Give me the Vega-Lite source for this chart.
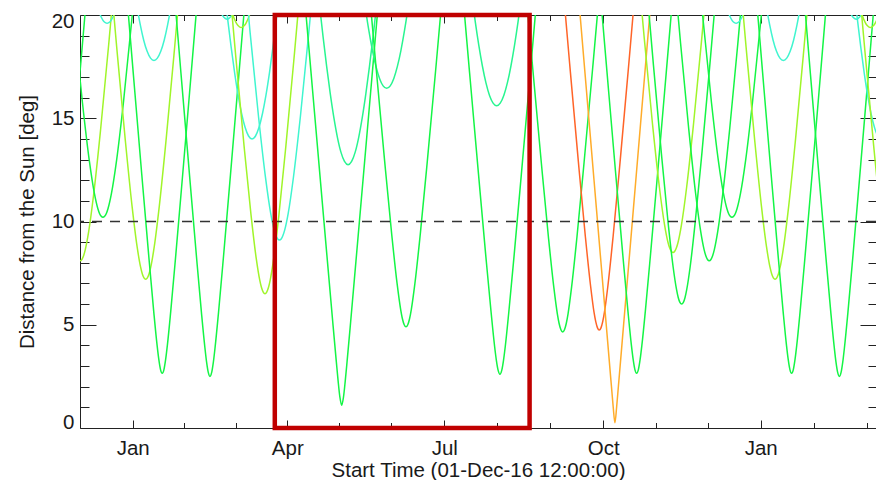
{
"$schema": "https://vega.github.io/schema/vega-lite/v6.json",
"width": 796, "height": 413,
"autosize": {"type": "none"},
"padding": {"left": 80, "top": 15, "right": 0, "bottom": 52},
"background": "white",
"config": {
 "view": {"stroke": "#222", "strokeWidth": 1},
 "font": "Liberation Sans",
 "axis": {"grid": false, "domain": false, "labelFont": "Liberation Sans", "titleFont": "Liberation Sans", "labelFontSize": 20.5, "titleFontSize": 20.5, "labelColor": "#1a1a1a", "titleColor": "#1a1a1a", "titleFontWeight": "normal", "tickColor": "#222", "tickWidth": 1, "labelOverlap": false, "labelFlush": false}
},
"layer": [
{
 "data": {"values": [
{"s":"L2","c":"g","t":-23.92,"v":10},{"s":"L2","c":"g","t":-20.95,"v":7.81},{"s":"L2","c":"g","t":-16,"v":6},{"s":"L2","c":"g","t":-11.05,"v":7.81},{"s":"L2","c":"g","t":-8.08,"v":10},{"s":"L2","c":"g","t":-4.12,"v":13.42},{"s":"L2","c":"g","t":0.83,"v":18.03},{"s":"L2","c":"g","t":7.76,"v":24.74},
{"s":"L1","c":"yg","t":-23.66,"v":25.33},{"s":"L1","c":"yg","t":-16.73,"v":18.83},{"s":"L1","c":"yg","t":-11.78,"v":14.48},{"s":"L1","c":"yg","t":-7.82,"v":11.38},{"s":"L1","c":"yg","t":-4.85,"v":9.52},{"s":"L1","c":"yg","t":-2.87,"v":8.64},{"s":"L1","c":"yg","t":-1.88,"v":8.34},{"s":"L1","c":"yg","t":-0.89,"v":8.16},{"s":"L1","c":"yg","t":0.1,"v":8.1},{"s":"L1","c":"yg","t":1.09,"v":8.16},{"s":"L1","c":"yg","t":2.08,"v":8.34},{"s":"L1","c":"yg","t":3.07,"v":8.64},{"s":"L1","c":"yg","t":5.05,"v":9.52},{"s":"L1","c":"yg","t":8.02,"v":11.38},{"s":"L1","c":"yg","t":11.98,"v":14.48},{"s":"L1","c":"yg","t":16.93,"v":18.83},{"s":"L1","c":"yg","t":23.86,"v":25.33},
{"s":"d1","c":"g","t":-10.46,"v":26.08},{"s":"d1","c":"g","t":-3.53,"v":19.83},{"s":"d1","c":"g","t":1.42,"v":15.75},{"s":"d1","c":"g","t":5.38,"v":12.96},{"s":"d1","c":"g","t":8.35,"v":11.36},{"s":"d1","c":"g","t":10.33,"v":10.63},{"s":"d1","c":"g","t":11.32,"v":10.39},{"s":"d1","c":"g","t":12.31,"v":10.25},{"s":"d1","c":"g","t":13.3,"v":10.2},{"s":"d1","c":"g","t":14.29,"v":10.25},{"s":"d1","c":"g","t":15.28,"v":10.39},{"s":"d1","c":"g","t":16.27,"v":10.63},{"s":"d1","c":"g","t":18.25,"v":11.36},{"s":"d1","c":"g","t":21.22,"v":12.96},{"s":"d1","c":"g","t":25.18,"v":15.75},{"s":"d1","c":"g","t":30.13,"v":19.83},{"s":"d1","c":"g","t":37.06,"v":26.08},
{"s":"d6","c":"cy","t":7.78,"v":21.17},{"s":"d6","c":"cy","t":10.75,"v":20.23},{"s":"d6","c":"cy","t":12.73,"v":19.83},{"s":"d6","c":"cy","t":13.72,"v":19.7},{"s":"d6","c":"cy","t":14.71,"v":19.63},{"s":"d6","c":"cy","t":15.7,"v":19.6},{"s":"d6","c":"cy","t":16.69,"v":19.63},{"s":"d6","c":"cy","t":17.68,"v":19.7},{"s":"d6","c":"cy","t":18.67,"v":19.83},{"s":"d6","c":"cy","t":20.65,"v":20.23},{"s":"d6","c":"cy","t":23.62,"v":21.17},
{"s":"d2","c":"yg","t":14.34,"v":25.06},{"s":"d2","c":"yg","t":21.27,"v":18.46},{"s":"d2","c":"yg","t":26.22,"v":13.99},{"s":"d2","c":"yg","t":30.18,"v":10.76},{"s":"d2","c":"yg","t":33.15,"v":8.77},{"s":"d2","c":"yg","t":35.13,"v":7.8},{"s":"d2","c":"yg","t":36.12,"v":7.47},{"s":"d2","c":"yg","t":37.11,"v":7.27},{"s":"d2","c":"yg","t":38.1,"v":7.2},{"s":"d2","c":"yg","t":39.09,"v":7.27},{"s":"d2","c":"yg","t":40.08,"v":7.47},{"s":"d2","c":"yg","t":41.07,"v":7.8},{"s":"d2","c":"yg","t":43.05,"v":8.77},{"s":"d2","c":"yg","t":46.02,"v":10.76},{"s":"d2","c":"yg","t":49.98,"v":13.99},{"s":"d2","c":"yg","t":54.93,"v":18.46},{"s":"d2","c":"yg","t":61.86,"v":25.06},
{"s":"d5","c":"cy","t":30.03,"v":22.04},{"s":"d5","c":"cy","t":33.0,"v":20.42},{"s":"d5","c":"cy","t":34.98,"v":19.52},{"s":"d5","c":"cy","t":36.96,"v":18.78},{"s":"d5","c":"cy","t":38.94,"v":18.24},{"s":"d5","c":"cy","t":40.92,"v":17.91},{"s":"d5","c":"cy","t":42.9,"v":17.8},{"s":"d5","c":"cy","t":44.88,"v":17.91},{"s":"d5","c":"cy","t":46.86,"v":18.24},{"s":"d5","c":"cy","t":48.84,"v":18.78},{"s":"d5","c":"cy","t":50.82,"v":19.52},{"s":"d5","c":"cy","t":52.8,"v":20.42},{"s":"d5","c":"cy","t":55.77,"v":22.04},
{"s":"d3","c":"g","t":23.94,"v":24.15},{"s":"d3","c":"g","t":30.87,"v":17.21},{"s":"d3","c":"g","t":35.82,"v":12.29},{"s":"d3","c":"g","t":39.78,"v":8.43},{"s":"d3","c":"g","t":42.75,"v":5.66},{"s":"d3","c":"g","t":44.73,"v":4.0},{"s":"d3","c":"g","t":45.72,"v":3.32},{"s":"d3","c":"g","t":46.71,"v":2.83},{"s":"d3","c":"g","t":47.7,"v":2.65},{"s":"d3","c":"g","t":48.69,"v":2.83},{"s":"d3","c":"g","t":49.68,"v":3.32},{"s":"d3","c":"g","t":50.67,"v":4.0},{"s":"d3","c":"g","t":52.65,"v":5.66},{"s":"d3","c":"g","t":55.62,"v":8.43},{"s":"d3","c":"g","t":59.58,"v":12.29},{"s":"d3","c":"g","t":64.53,"v":17.21},{"s":"d3","c":"g","t":71.46,"v":24.15},
{"s":"d4","c":"g","t":51.64,"v":24.13},{"s":"d4","c":"g","t":58.57,"v":17.18},{"s":"d4","c":"g","t":63.52,"v":12.26},{"s":"d4","c":"g","t":67.48,"v":8.38},{"s":"d4","c":"g","t":70.45,"v":5.59},{"s":"d4","c":"g","t":72.43,"v":3.91},{"s":"d4","c":"g","t":73.42,"v":3.2},{"s":"d4","c":"g","t":74.41,"v":2.69},{"s":"d4","c":"g","t":75.4,"v":2.5},{"s":"d4","c":"g","t":76.39,"v":2.69},{"s":"d4","c":"g","t":77.38,"v":3.2},{"s":"d4","c":"g","t":78.37,"v":3.91},{"s":"d4","c":"g","t":80.35,"v":5.59},{"s":"d4","c":"g","t":83.32,"v":8.38},{"s":"d4","c":"g","t":87.28,"v":12.26},{"s":"d4","c":"g","t":92.23,"v":17.18},{"s":"d4","c":"g","t":99.16,"v":24.13},
{"s":"d7","c":"cy","t":80.35,"v":20.42},{"s":"d7","c":"cy","t":82.33,"v":20.03},{"s":"d7","c":"cy","t":83.32,"v":19.9},{"s":"d7","c":"cy","t":84.31,"v":19.83},{"s":"d7","c":"cy","t":85.3,"v":19.8},{"s":"d7","c":"cy","t":86.29,"v":19.83},{"s":"d7","c":"cy","t":87.28,"v":19.9},{"s":"d7","c":"cy","t":88.27,"v":20.03},{"s":"d7","c":"cy","t":90.25,"v":20.42},
{"s":"d8","c":"yg","t":85.58,"v":20.98},{"s":"d8","c":"yg","t":88.55,"v":20.03},{"s":"d8","c":"yg","t":90.53,"v":19.63},{"s":"d8","c":"yg","t":91.52,"v":19.5},{"s":"d8","c":"yg","t":92.51,"v":19.43},{"s":"d8","c":"yg","t":93.5,"v":19.4},{"s":"d8","c":"yg","t":94.49,"v":19.43},{"s":"d8","c":"yg","t":95.48,"v":19.5},{"s":"d8","c":"yg","t":96.47,"v":19.63},{"s":"d8","c":"yg","t":98.45,"v":20.03},{"s":"d8","c":"yg","t":101.42,"v":20.98},
{"s":"d9","c":"cy","t":82.63,"v":22.02},{"s":"d9","c":"cy","t":85.66,"v":19.8},{"s":"d9","c":"cy","t":87.68,"v":18.44},{"s":"d9","c":"cy","t":89.7,"v":17.2},{"s":"d9","c":"cy","t":91.72,"v":16.12},{"s":"d9","c":"cy","t":93.74,"v":15.23},{"s":"d9","c":"cy","t":95.76,"v":14.56},{"s":"d9","c":"cy","t":97.78,"v":14.14},{"s":"d9","c":"cy","t":99.8,"v":14.0},{"s":"d9","c":"cy","t":101.82,"v":14.14},{"s":"d9","c":"cy","t":103.84,"v":14.56},{"s":"d9","c":"cy","t":105.86,"v":15.23},{"s":"d9","c":"cy","t":107.88,"v":16.12},{"s":"d9","c":"cy","t":109.9,"v":17.2},{"s":"d9","c":"cy","t":111.92,"v":18.44},{"s":"d9","c":"cy","t":113.94,"v":19.8},{"s":"d9","c":"cy","t":116.97,"v":22.02},
{"s":"d10","c":"yg","t":83.06,"v":24.86},{"s":"d10","c":"yg","t":90.13,"v":18.2},{"s":"d10","c":"yg","t":95.18,"v":13.65},{"s":"d10","c":"yg","t":99.22,"v":10.31},{"s":"d10","c":"yg","t":102.25,"v":8.2},{"s":"d10","c":"yg","t":104.27,"v":7.16},{"s":"d10","c":"yg","t":105.28,"v":6.8},{"s":"d10","c":"yg","t":106.29,"v":6.58},{"s":"d10","c":"yg","t":107.3,"v":6.5},{"s":"d10","c":"yg","t":108.31,"v":6.58},{"s":"d10","c":"yg","t":109.32,"v":6.8},{"s":"d10","c":"yg","t":110.33,"v":7.16},{"s":"d10","c":"yg","t":112.35,"v":8.2},{"s":"d10","c":"yg","t":115.38,"v":10.31},{"s":"d10","c":"yg","t":119.42,"v":13.65},{"s":"d10","c":"yg","t":124.47,"v":18.2},{"s":"d10","c":"yg","t":131.54,"v":24.86},
{"s":"d11","c":"cy","t":91.46,"v":25.67},{"s":"d11","c":"cy","t":98.53,"v":19.28},{"s":"d11","c":"cy","t":103.58,"v":15.06},{"s":"d11","c":"cy","t":107.62,"v":12.12},{"s":"d11","c":"cy","t":110.65,"v":10.38},{"s":"d11","c":"cy","t":112.67,"v":9.58},{"s":"d11","c":"cy","t":113.68,"v":9.32},{"s":"d11","c":"cy","t":114.69,"v":9.15},{"s":"d11","c":"cy","t":115.7,"v":9.1},{"s":"d11","c":"cy","t":116.71,"v":9.15},{"s":"d11","c":"cy","t":117.72,"v":9.32},{"s":"d11","c":"cy","t":118.73,"v":9.58},{"s":"d11","c":"cy","t":120.75,"v":10.38},{"s":"d11","c":"cy","t":123.78,"v":12.12},{"s":"d11","c":"cy","t":127.82,"v":15.06},{"s":"d11","c":"cy","t":132.87,"v":19.28},{"s":"d11","c":"cy","t":139.94,"v":25.67},
{"s":"d12","c":"g","t":126.96,"v":24.03},{"s":"d12","c":"g","t":134.2,"v":17.04},{"s":"d12","c":"g","t":139.38,"v":12.05},{"s":"d12","c":"g","t":143.52,"v":8.08},{"s":"d12","c":"g","t":146.63,"v":5.12},{"s":"d12","c":"g","t":148.7,"v":3.2},{"s":"d12","c":"g","t":149.73,"v":2.28},{"s":"d12","c":"g","t":150.77,"v":1.49},{"s":"d12","c":"g","t":151.8,"v":1.1},{"s":"d12","c":"g","t":152.84,"v":1.49},{"s":"d12","c":"g","t":153.87,"v":2.28},{"s":"d12","c":"g","t":154.91,"v":3.2},{"s":"d12","c":"g","t":156.98,"v":5.12},{"s":"d12","c":"g","t":160.08,"v":8.08},{"s":"d12","c":"g","t":164.22,"v":12.05},{"s":"d12","c":"g","t":169.4,"v":17.04},{"s":"d12","c":"g","t":176.64,"v":24.03},
{"s":"d13","c":"cg","t":137.9,"v":21.25},{"s":"d13","c":"cg","t":141.01,"v":18.94},{"s":"d13","c":"cg","t":143.08,"v":17.51},{"s":"d13","c":"cg","t":145.15,"v":16.2},{"s":"d13","c":"cg","t":147.22,"v":15.05},{"s":"d13","c":"cg","t":149.29,"v":14.09},{"s":"d13","c":"cg","t":151.36,"v":13.36},{"s":"d13","c":"cg","t":153.43,"v":12.91},{"s":"d13","c":"cg","t":155.5,"v":12.75},{"s":"d13","c":"cg","t":157.57,"v":12.91},{"s":"d13","c":"cg","t":159.64,"v":13.36},{"s":"d13","c":"cg","t":161.71,"v":14.09},{"s":"d13","c":"cg","t":163.78,"v":15.05},{"s":"d13","c":"cg","t":165.85,"v":16.2},{"s":"d13","c":"cg","t":167.92,"v":17.51},{"s":"d13","c":"cg","t":169.99,"v":18.94},{"s":"d13","c":"cg","t":173.1,"v":21.25},
{"s":"d14","c":"cg","t":163.41,"v":21.6},{"s":"d14","c":"cg","t":165.48,"v":20.36},{"s":"d14","c":"cg","t":167.55,"v":19.25},{"s":"d14","c":"cg","t":169.62,"v":18.29},{"s":"d14","c":"cg","t":171.69,"v":17.51},{"s":"d14","c":"cg","t":173.76,"v":16.93},{"s":"d14","c":"cg","t":175.83,"v":16.57},{"s":"d14","c":"cg","t":177.9,"v":16.45},{"s":"d14","c":"cg","t":179.97,"v":16.57},{"s":"d14","c":"cg","t":182.04,"v":16.93},{"s":"d14","c":"cg","t":184.11,"v":17.51},{"s":"d14","c":"cg","t":186.18,"v":18.29},{"s":"d14","c":"cg","t":188.25,"v":19.25},{"s":"d14","c":"cg","t":190.32,"v":20.36},{"s":"d14","c":"cg","t":192.39,"v":21.6},
{"s":"d15","c":"g","t":164.26,"v":24.5},{"s":"d15","c":"g","t":171.5,"v":17.69},{"s":"d15","c":"g","t":176.68,"v":12.96},{"s":"d15","c":"g","t":180.82,"v":9.38},{"s":"d15","c":"g","t":183.93,"v":7.0},{"s":"d15","c":"g","t":186.0,"v":5.75},{"s":"d15","c":"g","t":187.03,"v":5.29},{"s":"d15","c":"g","t":188.07,"v":5.0},{"s":"d15","c":"g","t":189.1,"v":4.9},{"s":"d15","c":"g","t":190.14,"v":5.0},{"s":"d15","c":"g","t":191.17,"v":5.29},{"s":"d15","c":"g","t":192.21,"v":5.75},{"s":"d15","c":"g","t":194.28,"v":7.0},{"s":"d15","c":"g","t":197.38,"v":9.38},{"s":"d15","c":"g","t":201.52,"v":12.96},{"s":"d15","c":"g","t":206.7,"v":17.69},{"s":"d15","c":"g","t":213.94,"v":24.5},
{"s":"d16","c":"cg","t":227.21,"v":20.96},{"s":"d16","c":"cg","t":229.28,"v":19.68},{"s":"d16","c":"cg","t":231.35,"v":18.53},{"s":"d16","c":"cg","t":233.42,"v":17.53},{"s":"d16","c":"cg","t":235.49,"v":16.71},{"s":"d16","c":"cg","t":237.56,"v":16.1},{"s":"d16","c":"cg","t":239.63,"v":15.73},{"s":"d16","c":"cg","t":241.7,"v":15.6},{"s":"d16","c":"cg","t":243.77,"v":15.73},{"s":"d16","c":"cg","t":245.84,"v":16.1},{"s":"d16","c":"cg","t":247.91,"v":16.71},{"s":"d16","c":"cg","t":249.98,"v":17.53},{"s":"d16","c":"cg","t":252.05,"v":18.53},{"s":"d16","c":"cg","t":254.12,"v":19.68},{"s":"d16","c":"cg","t":256.19,"v":20.96},
{"s":"d17","c":"g","t":218.76,"v":24.14},{"s":"d17","c":"g","t":226.0,"v":17.2},{"s":"d17","c":"g","t":231.18,"v":12.28},{"s":"d17","c":"g","t":235.32,"v":8.41},{"s":"d17","c":"g","t":238.43,"v":5.64},{"s":"d17","c":"g","t":240.5,"v":3.96},{"s":"d17","c":"g","t":241.53,"v":3.28},{"s":"d17","c":"g","t":242.57,"v":2.79},{"s":"d17","c":"g","t":243.6,"v":2.6},{"s":"d17","c":"g","t":244.64,"v":2.79},{"s":"d17","c":"g","t":245.67,"v":3.28},{"s":"d17","c":"g","t":246.71,"v":3.96},{"s":"d17","c":"g","t":248.78,"v":5.64},{"s":"d17","c":"g","t":251.88,"v":8.41},{"s":"d17","c":"g","t":256.02,"v":12.28},{"s":"d17","c":"g","t":261.2,"v":17.2},{"s":"d17","c":"g","t":268.44,"v":24.14},
{"s":"d18","c":"g","t":255.16,"v":24.45},{"s":"d18","c":"g","t":262.4,"v":17.62},{"s":"d18","c":"g","t":267.58,"v":12.87},{"s":"d18","c":"g","t":271.72,"v":9.25},{"s":"d18","c":"g","t":274.83,"v":6.83},{"s":"d18","c":"g","t":276.9,"v":5.53},{"s":"d18","c":"g","t":277.93,"v":5.06},{"s":"d18","c":"g","t":278.97,"v":4.76},{"s":"d18","c":"g","t":280.0,"v":4.65},{"s":"d18","c":"g","t":281.04,"v":4.76},{"s":"d18","c":"g","t":282.07,"v":5.06},{"s":"d18","c":"g","t":283.11,"v":5.53},{"s":"d18","c":"g","t":285.18,"v":6.83},{"s":"d18","c":"g","t":288.28,"v":9.25},{"s":"d18","c":"g","t":292.42,"v":12.87},{"s":"d18","c":"g","t":297.6,"v":17.62},{"s":"d18","c":"g","t":304.84,"v":24.45},
{"s":"d19","c":"rd","t":276.96,"v":24.47},{"s":"d19","c":"rd","t":284.03,"v":17.65},{"s":"d19","c":"rd","t":289.08,"v":12.91},{"s":"d19","c":"rd","t":293.12,"v":9.3},{"s":"d19","c":"rd","t":296.15,"v":6.9},{"s":"d19","c":"rd","t":298.17,"v":5.61},{"s":"d19","c":"rd","t":299.18,"v":5.15},{"s":"d19","c":"rd","t":300.19,"v":4.85},{"s":"d19","c":"rd","t":301.2,"v":4.75},{"s":"d19","c":"rd","t":302.21,"v":4.85},{"s":"d19","c":"rd","t":303.22,"v":5.15},{"s":"d19","c":"rd","t":304.23,"v":5.61},{"s":"d19","c":"rd","t":306.25,"v":6.9},{"s":"d19","c":"rd","t":309.28,"v":9.3},{"s":"d19","c":"rd","t":313.32,"v":12.91},{"s":"d19","c":"rd","t":318.37,"v":17.65},{"s":"d19","c":"rd","t":325.44,"v":24.47},
{"s":"d20","c":"or","t":286.06,"v":24.0},{"s":"d20","c":"or","t":293.13,"v":17.0},{"s":"d20","c":"or","t":298.18,"v":12.0},{"s":"d20","c":"or","t":302.22,"v":8.0},{"s":"d20","c":"or","t":305.25,"v":5.01},{"s":"d20","c":"or","t":307.27,"v":3.01},{"s":"d20","c":"or","t":308.28,"v":2.02},{"s":"d20","c":"or","t":309.29,"v":1.03},{"s":"d20","c":"or","t":310.3,"v":0.25},{"s":"d20","c":"or","t":311.31,"v":1.03},{"s":"d20","c":"or","t":312.32,"v":2.02},{"s":"d20","c":"or","t":313.33,"v":3.01},{"s":"d20","c":"or","t":315.35,"v":5.01},{"s":"d20","c":"or","t":318.38,"v":8.0},{"s":"d20","c":"or","t":322.42,"v":12.0},{"s":"d20","c":"or","t":327.47,"v":17.0},{"s":"d20","c":"or","t":334.54,"v":24.0},
{"s":"d21","c":"g","t":298.66,"v":24.15},{"s":"d21","c":"g","t":305.73,"v":17.21},{"s":"d21","c":"g","t":310.78,"v":12.29},{"s":"d21","c":"g","t":314.82,"v":8.43},{"s":"d21","c":"g","t":317.85,"v":5.66},{"s":"d21","c":"g","t":319.87,"v":4.0},{"s":"d21","c":"g","t":320.88,"v":3.32},{"s":"d21","c":"g","t":321.89,"v":2.83},{"s":"d21","c":"g","t":322.9,"v":2.65},{"s":"d21","c":"g","t":323.91,"v":2.83},{"s":"d21","c":"g","t":324.92,"v":3.32},{"s":"d21","c":"g","t":325.93,"v":4.0},{"s":"d21","c":"g","t":327.95,"v":5.66},{"s":"d21","c":"g","t":330.98,"v":8.43},{"s":"d21","c":"g","t":335.02,"v":12.29},{"s":"d21","c":"g","t":340.07,"v":17.21},{"s":"d21","c":"g","t":347.14,"v":24.15},
{"s":"d22","c":"yg","t":320.24,"v":25.46},{"s":"d22","c":"yg","t":327.17,"v":19.01},{"s":"d22","c":"yg","t":332.12,"v":14.71},{"s":"d22","c":"yg","t":336.08,"v":11.67},{"s":"d22","c":"yg","t":339.05,"v":9.86},{"s":"d22","c":"yg","t":341.03,"v":9.01},{"s":"d22","c":"yg","t":342.02,"v":8.73},{"s":"d22","c":"yg","t":343.01,"v":8.56},{"s":"d22","c":"yg","t":344.0,"v":8.5},{"s":"d22","c":"yg","t":344.99,"v":8.56},{"s":"d22","c":"yg","t":345.98,"v":8.73},{"s":"d22","c":"yg","t":346.97,"v":9.01},{"s":"d22","c":"yg","t":348.95,"v":9.86},{"s":"d22","c":"yg","t":351.92,"v":11.67},{"s":"d22","c":"yg","t":355.88,"v":14.71},{"s":"d22","c":"yg","t":360.83,"v":19.01},{"s":"d22","c":"yg","t":367.76,"v":25.46},
{"s":"d23","c":"g","t":325.24,"v":24.74},{"s":"d23","c":"g","t":332.17,"v":18.03},{"s":"d23","c":"g","t":337.12,"v":13.42},{"s":"d23","c":"g","t":341.08,"v":10.0},{"s":"d23","c":"g","t":344.05,"v":7.81},{"s":"d23","c":"g","t":346.03,"v":6.71},{"s":"d23","c":"g","t":347.02,"v":6.32},{"s":"d23","c":"g","t":348.01,"v":6.08},{"s":"d23","c":"g","t":349.0,"v":6.0},{"s":"d23","c":"g","t":349.99,"v":6.08},{"s":"d23","c":"g","t":350.98,"v":6.32},{"s":"d23","c":"g","t":351.97,"v":6.71},{"s":"d23","c":"g","t":353.95,"v":7.81},{"s":"d23","c":"g","t":356.92,"v":10.0},{"s":"d23","c":"g","t":360.88,"v":13.42},{"s":"d23","c":"g","t":365.83,"v":18.03},{"s":"d23","c":"g","t":372.76,"v":24.74},
{"s":"d24","c":"g","t":341.24,"v":25.33},{"s":"d24","c":"g","t":348.17,"v":18.83},{"s":"d24","c":"g","t":353.12,"v":14.48},{"s":"d24","c":"g","t":357.08,"v":11.38},{"s":"d24","c":"g","t":360.05,"v":9.52},{"s":"d24","c":"g","t":362.03,"v":8.64},{"s":"d24","c":"g","t":363.02,"v":8.34},{"s":"d24","c":"g","t":364.01,"v":8.16},{"s":"d24","c":"g","t":365.0,"v":8.1},{"s":"d24","c":"g","t":365.99,"v":8.16},{"s":"d24","c":"g","t":366.98,"v":8.34},{"s":"d24","c":"g","t":367.97,"v":8.64},{"s":"d24","c":"g","t":369.95,"v":9.52},{"s":"d24","c":"g","t":372.92,"v":11.38},{"s":"d24","c":"g","t":376.88,"v":14.48},{"s":"d24","c":"g","t":381.83,"v":18.83},{"s":"d24","c":"g","t":388.76,"v":25.33},
{"s":"d25","c":"g","t":354.44,"v":26.08},{"s":"d25","c":"g","t":361.37,"v":19.83},{"s":"d25","c":"g","t":366.32,"v":15.75},{"s":"d25","c":"g","t":370.28,"v":12.96},{"s":"d25","c":"g","t":373.25,"v":11.36},{"s":"d25","c":"g","t":375.23,"v":10.63},{"s":"d25","c":"g","t":376.22,"v":10.39},{"s":"d25","c":"g","t":377.21,"v":10.25},{"s":"d25","c":"g","t":378.2,"v":10.2},{"s":"d25","c":"g","t":379.19,"v":10.25},{"s":"d25","c":"g","t":380.18,"v":10.39},{"s":"d25","c":"g","t":381.17,"v":10.63},{"s":"d25","c":"g","t":383.15,"v":11.36},{"s":"d25","c":"g","t":386.12,"v":12.96},{"s":"d25","c":"g","t":390.08,"v":15.75},{"s":"d25","c":"g","t":395.03,"v":19.83},{"s":"d25","c":"g","t":401.96,"v":26.08},
{"s":"d26","c":"cy","t":372.68,"v":21.17},{"s":"d26","c":"cy","t":375.65,"v":20.23},{"s":"d26","c":"cy","t":377.63,"v":19.83},{"s":"d26","c":"cy","t":378.62,"v":19.7},{"s":"d26","c":"cy","t":379.61,"v":19.63},{"s":"d26","c":"cy","t":380.6,"v":19.6},{"s":"d26","c":"cy","t":381.59,"v":19.63},{"s":"d26","c":"cy","t":382.58,"v":19.7},{"s":"d26","c":"cy","t":383.57,"v":19.83},{"s":"d26","c":"cy","t":385.55,"v":20.23},{"s":"d26","c":"cy","t":388.52,"v":21.17},
{"s":"d28","c":"yg","t":379.44,"v":25.06},{"s":"d28","c":"yg","t":386.37,"v":18.46},{"s":"d28","c":"yg","t":391.32,"v":13.99},{"s":"d28","c":"yg","t":395.28,"v":10.76},{"s":"d28","c":"yg","t":398.25,"v":8.77},{"s":"d28","c":"yg","t":400.23,"v":7.8},{"s":"d28","c":"yg","t":401.22,"v":7.47},{"s":"d28","c":"yg","t":402.21,"v":7.27},{"s":"d28","c":"yg","t":403.2,"v":7.2},{"s":"d28","c":"yg","t":404.19,"v":7.27},{"s":"d28","c":"yg","t":405.18,"v":7.47},{"s":"d28","c":"yg","t":406.17,"v":7.8},{"s":"d28","c":"yg","t":408.15,"v":8.77},{"s":"d28","c":"yg","t":411.12,"v":10.76},{"s":"d28","c":"yg","t":415.08,"v":13.99},{"s":"d28","c":"yg","t":420.03,"v":18.46},{"s":"d28","c":"yg","t":426.96,"v":25.06},
{"s":"d27","c":"cy","t":395.13,"v":22.04},{"s":"d27","c":"cy","t":398.1,"v":20.42},{"s":"d27","c":"cy","t":400.08,"v":19.52},{"s":"d27","c":"cy","t":402.06,"v":18.78},{"s":"d27","c":"cy","t":404.04,"v":18.24},{"s":"d27","c":"cy","t":406.02,"v":17.91},{"s":"d27","c":"cy","t":408.0,"v":17.8},{"s":"d27","c":"cy","t":409.98,"v":17.91},{"s":"d27","c":"cy","t":411.96,"v":18.24},{"s":"d27","c":"cy","t":413.94,"v":18.78},{"s":"d27","c":"cy","t":415.92,"v":19.52},{"s":"d27","c":"cy","t":417.9,"v":20.42},{"s":"d27","c":"cy","t":420.87,"v":22.04},
{"s":"d29","c":"g","t":389.04,"v":24.15},{"s":"d29","c":"g","t":395.97,"v":17.21},{"s":"d29","c":"g","t":400.92,"v":12.29},{"s":"d29","c":"g","t":404.88,"v":8.43},{"s":"d29","c":"g","t":407.85,"v":5.66},{"s":"d29","c":"g","t":409.83,"v":4.0},{"s":"d29","c":"g","t":410.82,"v":3.32},{"s":"d29","c":"g","t":411.81,"v":2.83},{"s":"d29","c":"g","t":412.8,"v":2.65},{"s":"d29","c":"g","t":413.79,"v":2.83},{"s":"d29","c":"g","t":414.78,"v":3.32},{"s":"d29","c":"g","t":415.77,"v":4.0},{"s":"d29","c":"g","t":417.75,"v":5.66},{"s":"d29","c":"g","t":420.72,"v":8.43},{"s":"d29","c":"g","t":424.68,"v":12.29},{"s":"d29","c":"g","t":429.63,"v":17.21},{"s":"d29","c":"g","t":436.56,"v":24.15},
{"s":"d30","c":"g","t":416.74,"v":24.13},{"s":"d30","c":"g","t":423.67,"v":17.18},{"s":"d30","c":"g","t":428.62,"v":12.26},{"s":"d30","c":"g","t":432.58,"v":8.38},{"s":"d30","c":"g","t":435.55,"v":5.59},{"s":"d30","c":"g","t":437.53,"v":3.91},{"s":"d30","c":"g","t":438.52,"v":3.2},{"s":"d30","c":"g","t":439.51,"v":2.69},{"s":"d30","c":"g","t":440.5,"v":2.5},{"s":"d30","c":"g","t":441.49,"v":2.69},{"s":"d30","c":"g","t":442.48,"v":3.2},{"s":"d30","c":"g","t":443.47,"v":3.91},{"s":"d30","c":"g","t":445.45,"v":5.59},{"s":"d30","c":"g","t":448.42,"v":8.38},{"s":"d30","c":"g","t":452.38,"v":12.26},{"s":"d30","c":"g","t":457.33,"v":17.18},{"s":"d30","c":"g","t":464.26,"v":24.13},
{"s":"d31","c":"cy","t":445.35,"v":20.42},{"s":"d31","c":"cy","t":447.33,"v":20.03},{"s":"d31","c":"cy","t":448.32,"v":19.9},{"s":"d31","c":"cy","t":449.31,"v":19.83},{"s":"d31","c":"cy","t":450.3,"v":19.8},{"s":"d31","c":"cy","t":451.29,"v":19.83},{"s":"d31","c":"cy","t":452.28,"v":19.9},{"s":"d31","c":"cy","t":453.27,"v":20.03},{"s":"d31","c":"cy","t":455.25,"v":20.42},
{"s":"d32","c":"yg","t":450.58,"v":20.98},{"s":"d32","c":"yg","t":453.55,"v":20.03},{"s":"d32","c":"yg","t":455.53,"v":19.63},{"s":"d32","c":"yg","t":456.52,"v":19.5},{"s":"d32","c":"yg","t":457.51,"v":19.43},{"s":"d32","c":"yg","t":458.5,"v":19.4},{"s":"d32","c":"yg","t":459.49,"v":19.43},{"s":"d32","c":"yg","t":460.48,"v":19.5},{"s":"d32","c":"yg","t":461.47,"v":19.63},{"s":"d32","c":"yg","t":463.45,"v":20.03},{"s":"d32","c":"yg","t":466.42,"v":20.98},
{"s":"d9a","c":"cy","t":447.97,"v":22.02},{"s":"d9a","c":"cy","t":450.94,"v":19.8},{"s":"d9a","c":"cy","t":452.92,"v":18.44},{"s":"d9a","c":"cy","t":454.9,"v":17.2},{"s":"d9a","c":"cy","t":456.88,"v":16.12},{"s":"d9a","c":"cy","t":458.86,"v":15.23},{"s":"d9a","c":"cy","t":460.84,"v":14.56},{"s":"d9a","c":"cy","t":462.82,"v":14.14},{"s":"d9a","c":"cy","t":464.8,"v":14.0},{"s":"d9a","c":"cy","t":466.78,"v":14.14},
{"s":"d10a","c":"yg","t":448.3,"v":24.86},{"s":"d10a","c":"yg","t":455.37,"v":18.2},{"s":"d10a","c":"yg","t":460.42,"v":13.65},{"s":"d10a","c":"yg","t":464.38,"v":10.31},{"s":"d10a","c":"yg","t":467.35,"v":8.2},{"s":"d10a","c":"yg","t":472.3,"v":6.5}
 ]},
 "mark": {"type": "line", "clip": true, "strokeWidth": 1.5, "interpolate": "monotone"},
 "encoding": {
  "x": {"field": "t", "type": "quantitative", "scale": {"domain": [0, 461.75], "nice": false, "zero": false},
   "axis": {"orient": "bottom", "values": [30.57,60.33,90.49,120.25,150.42,180.4,211.32,241.72,272.64,303.55,333.95,364.46,394.86,425.95,456.69],
    "title": "Start Time (01-Dec-16 12:00:00)",
    "labelExpr": "['Jan','Apr','Jul','Oct','Jan'][indexof([30.57,120.25,211.32,303.55,394.86], datum.value)] || ''",
    "tickSize": {"condition": {"test": "indexof([30.57,120.25,211.32,303.55,394.86], datum.value) >= 0", "value": -8}, "value": -5.5},
    "labelPadding": 18,
    "titleX": 398, "titleY": 48, "titleBaseline": "alphabetic", "titleAlign": "center"}},
  "y": {"field": "v", "type": "quantitative", "scale": {"domain": [0, 20], "nice": false, "zero": false},
   "axis": {"orient": "left", "values": [0,1,2,3,4,5,6,7,8,9,10,11,12,13,14,15,16,17,18,19,20],
    "title": "Distance from the Sun [deg]",
    "labelExpr": "datum.value % 5 === 0 ? datum.label : ''",
    "tickSize": {"condition": {"test": "datum.value % 5 === 0", "value": -16}, "value": -9},
    "labelPadding": 22,
    "labelOffset": {"condition": [{"test": "datum.value === 0", "value": -6}, {"test": "datum.value === 20", "value": 6}], "value": 0},
    "titleX": -47, "titleY": 206.5, "titleBaseline": "alphabetic", "titleAngle": 270, "titleAlign": "center"}},
  "color": {"field": "c", "type": "nominal", "scale": {"domain": ["g","yg","cy","cg","or","rd"], "range": ["#14f545","#a0f52a","#40f5cf","#28f590","#ffac2a","#ff6428"]}, "legend": null},
  "detail": {"field": "s"}
 }
},
{
 "data": {"values": [{"v": 10}]},
 "mark": {"type": "rule", "strokeDash": [10, 8], "color": "#333", "strokeWidth": 1.5},
 "encoding": {
  "y": {"field": "v", "type": "quantitative", "scale": {"domain": [0, 20], "nice": false, "zero": false},
   "axis": {"orient": "right", "values": [0,1,2,3,4,5,6,7,8,9,10,11,12,13,14,15,16,17,18,19,20], "labels": false, "title": null,
    "tickSize": {"condition": {"test": "datum.value % 5 === 0", "value": -16}, "value": -8}}}
 }
},
{
 "data": {"values": [{"x1": 113, "x2": 260.8, "y1": 0, "y2": 20}]},
 "mark": {"type": "rect", "filled": false, "stroke": "#c00000", "strokeWidth": 4.5},
 "encoding": {
  "x": {"field": "x1", "type": "quantitative", "scale": {"domain": [0, 461.75], "nice": false, "zero": false},
   "axis": {"orient": "top", "values": [30.57,60.33,90.49,120.25,150.42,180.4,211.32,241.72,272.64,303.55,333.95,364.46,394.86,425.95,456.69], "labels": false, "title": null,
    "tickSize": {"condition": {"test": "indexof([30.57,120.25,211.32,303.55,394.86], datum.value) >= 0", "value": -8}, "value": -5.5}}},
  "x2": {"field": "x2"},
  "y": {"field": "y1", "type": "quantitative", "scale": {"domain": [0, 20], "nice": false, "zero": false}, "axis": null},
  "y2": {"field": "y2"}
 }
}
],
"resolve": {"axis": {"x": "independent", "y": "independent"}}
}
